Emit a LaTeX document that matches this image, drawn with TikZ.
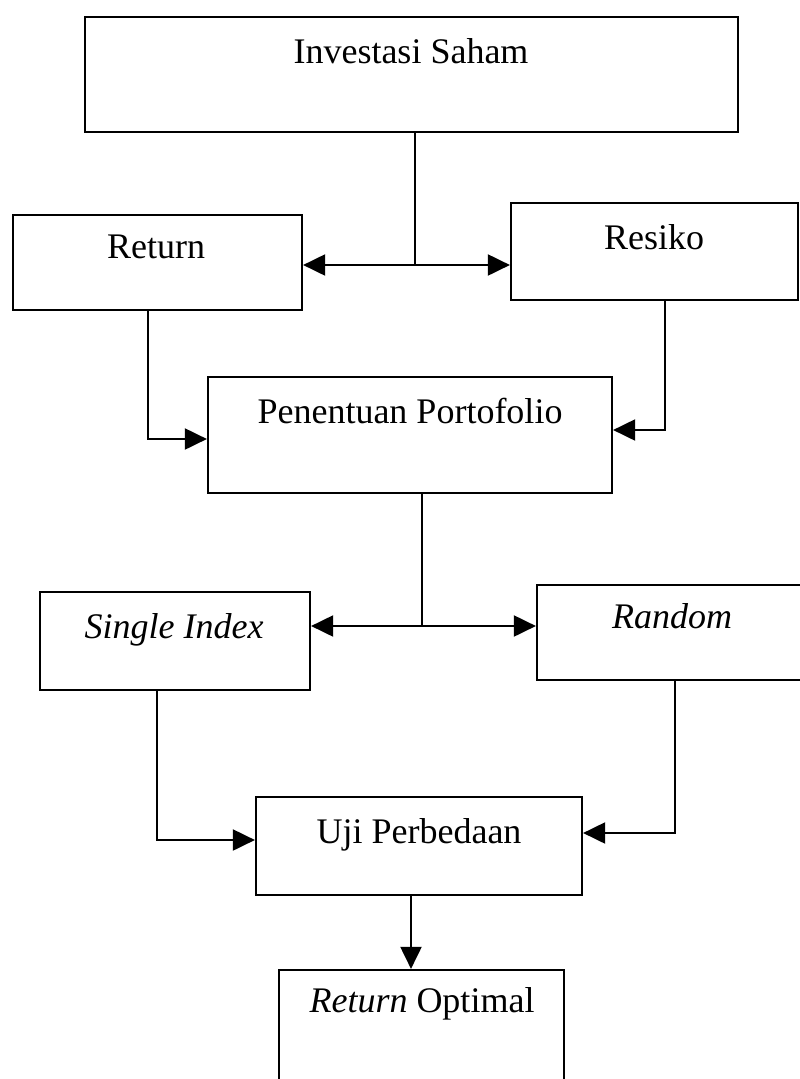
\documentclass[tikz,border=0pt]{standalone}
\usepackage{fontspec}
\setmainfont{Liberation Serif}
\usetikzlibrary{arrows.meta}
\tikzset{
  box/.style={draw, line width=2.2pt, inner sep=0pt, rectangle},
  lbl/.style={anchor=base, inner sep=0pt, font=\fontsize{36}{42}\selectfont},
  conn/.style={line width=2pt},
  arr/.style={line width=2pt, -{Triangle[length=22pt,width=21pt]}}
}
\begin{document}
\begin{tikzpicture}[x=1pt,y=-1pt]
\fill[white] (0,0) rectangle (800,1079);
\useasboundingbox (0,0) rectangle (800,1079);

% boxes
\node[box, minimum width=653pt, minimum height=115pt] (inv) at (411.5,74.5) {};
\node[box, minimum width=289pt, minimum height=95pt] (ret) at (157.5,262.5) {};
\node[box, minimum width=287pt, minimum height=97pt] (res) at (654.5,251.5) {};
\node[box, minimum width=404pt, minimum height=116pt] (pen) at (410,435) {};
\node[box, minimum width=270pt, minimum height=98pt] (si) at (175,641) {};
\node[box, minimum width=270pt, minimum height=95pt] (rnd) at (672,632.5) {};
\node[box, minimum width=326pt, minimum height=98pt] (uji) at (419,846) {};
\node[box, minimum width=285pt, minimum height=120pt] (ro) at (421.5,1030) {};

% labels
\node[lbl] (invt) at (411,63) {Investasi Saham};
\node[lbl] (rett) at (156,258) {Return};
\node[lbl] (rest) at (654,249) {Resiko};
\node[lbl] (pent) at (410,423) {Penentuan Portofolio};
\node[lbl] (sit) at (174,638) {\itshape Single Index};
\node[lbl] (rndt) at (672,628) {\itshape Random};
\node[lbl] (ujit) at (419,843) {Uji Perbedaan};
\node[lbl] (rot) at (422,1012) {\textit{Return} Optimal};

% junction / bend coordinates
\coordinate (j1) at (415,265);
\coordinate (j2) at (422,626);
\coordinate (c1) at (148,439);
\coordinate (c2) at (665,430);
\coordinate (c3) at (157,840);
\coordinate (c4) at (675,833);
\coordinate (c5) at (411,0);

% connectors
\draw[conn] (j1 |- inv.south) -- (j1);
\draw[arr] (j1) -- (j1 -| ret.east);
\draw[arr] (j1) -- (j1 -| res.west);

\draw[arr] (c1 |- ret.south) -- (c1) -- (c1 -| pen.west);
\draw[arr] (c2 |- res.south) -- (c2) -- (c2 -| pen.east);

\draw[conn] (j2 |- pen.south) -- (j2);
\draw[arr] (j2) -- (j2 -| si.east);
\draw[arr] (j2) -- (j2 -| rnd.west);

\draw[arr] (c3 |- si.south) -- (c3) -- (c3 -| uji.west);
\draw[arr] (c4 |- rnd.south) -- (c4) -- (c4 -| uji.east);

\draw[arr] (c5 |- uji.south) -- (c5 |- ro.north);
\end{tikzpicture}
\end{document}
